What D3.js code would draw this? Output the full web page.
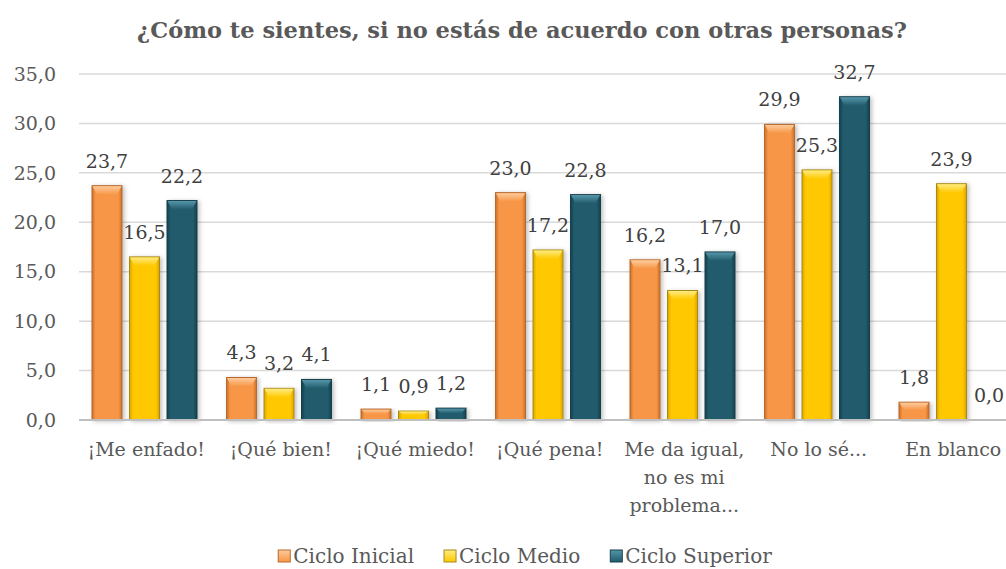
<!DOCTYPE html>
<html><head><meta charset="utf-8">
<script src="https://cdn.jsdelivr.net/npm/d3@7"></script>
<style>
html,body{margin:0;padding:0;background:#fff;overflow:hidden}
text{font-family:"DejaVu Serif",serif}
</style></head><body>
<svg id="c" width="1006" height="569"></svg>
<script>
const title = "¿Cómo te sientes, si no estás de acuerdo con otras personas?";
const categories = ["¡Me enfado!", "¡Qué bien!", "¡Qué miedo!", "¡Qué pena!", "Me da igual, no es mi problema...", "No lo sé...", "En blanco"];
const categoryLines = [["¡Me enfado!"], ["¡Qué bien!"], ["¡Qué miedo!"], ["¡Qué pena!"], ["Me da igual,", "no es mi", "problema..."], ["No lo sé..."], ["En blanco"]];
const seriesNames = ["Ciclo Inicial", "Ciclo Medio", "Ciclo Superior"];
const cicloInicial = [23.7, 4.3, 1.1, 23.0, 16.2, 29.9, 1.8];
const cicloMedio = [16.5, 3.2, 0.9, 17.2, 13.1, 25.3, 23.9];
const cicloSuperior = [22.2, 4.1, 1.2, 22.8, 17.0, 32.7, 0.0];
const yTicks = [0, 5, 10, 15, 20, 25, 30, 35];

const seriesValues = [cicloInicial, cicloMedio, cicloSuperior];
const colors = [
  {fill:"#F79646", light:"#FDCB9C", dark:"#C9702A", stroke:"#B8692E"},
  {fill:"#FFC800", light:"#FFEC80", dark:"#D9A400", stroke:"#A88A1E"},
  {fill:"#215B6C", light:"#5596AA", dark:"#163F4C", stroke:"#173F4B"}
];

const svg = d3.select("#c");
const fmt = v => d3.format(".1f")(v).replace(".", ",");

const defs = svg.append("defs");
const f = defs.append("filter").attr("id","sh").attr("x","-20%").attr("y","-5%").attr("width","150%").attr("height","115%");
f.append("feDropShadow").attr("dx",2).attr("dy",1).attr("stdDeviation",2).attr("flood-color","#000").attr("flood-opacity",0.25);
colors.forEach((c,i)=>{
  const g = defs.append("linearGradient").attr("id","bev"+i).attr("x1",0).attr("y1",0).attr("x2",0).attr("y2",1);
  g.append("stop").attr("offset","0%").attr("stop-color",c.light);
  g.append("stop").attr("offset","100%").attr("stop-color",c.fill);
  const h = defs.append("linearGradient").attr("id","body"+i).attr("x1",0).attr("y1",0).attr("x2",1).attr("y2",0);
  h.append("stop").attr("offset","0%").attr("stop-color",c.dark);
  h.append("stop").attr("offset","12%").attr("stop-color",c.fill);
  h.append("stop").attr("offset","88%").attr("stop-color",c.fill);
  h.append("stop").attr("offset","100%").attr("stop-color",c.dark);
});

const x0 = d3.scaleBand().domain(categories).range([79, 1020.5]).paddingInner(0).paddingOuter(0);
const x1 = d3.scaleBand().domain(seriesNames).range([13, 118]).paddingInner(0.2).paddingOuter(0);
const y = d3.scaleLinear().domain([0, 35]).range([420, 74]);

// title
svg.append("text").attr("x", 522).attr("y", 38).attr("text-anchor","middle")
  .attr("font-size", 22.5).attr("font-weight","bold").attr("fill","#595959").text(title);

// gridlines
svg.append("g").selectAll("line").data(yTicks.filter(t=>t>0)).join("line")
  .attr("x1", 79).attr("x2", 1006).attr("y1", d=>y(d)).attr("y2", d=>y(d))
  .attr("stroke","#D9D9D9").attr("stroke-width",1.5);

// y tick labels
svg.append("g").selectAll("text").data(yTicks).join("text")
  .attr("x", 56).attr("y", d=>y(d)).attr("dy","0.35em").attr("text-anchor","end")
  .attr("font-size",19).attr("fill","#595959").text(d=>fmt(d));

// bars
const groups = svg.append("g").selectAll("g").data(categories).join("g")
  .attr("transform", d=>`translate(${x0(d)},0)`);
seriesNames.forEach((s, si)=>{
  groups.each(function(cat, ci){
    const v = seriesValues[si][ci];
    const g = d3.select(this);
    const bx = x1(s), bw = x1.bandwidth();
    const top = y(v), h = y(0) - y(v);
    if (h > 0.5) {
      g.append("rect").attr("x",bx).attr("y",top).attr("width",bw).attr("height",h)
        .attr("fill",`url(#body${si})`).attr("stroke",colors[si].stroke).attr("stroke-width",1)
        .attr("filter","url(#sh)");
      const bh = Math.min(9, h*0.45), ins = Math.min(5, bw/4);
      g.append("path").attr("d",`M${bx+0.5},${top+0.5} L${bx+bw-0.5},${top+0.5} L${bx+bw-ins},${top+bh} L${bx+ins},${top+bh} Z`)
        .attr("fill",`url(#bev${si})`);
    }
    g.append("text").attr("x", bx + bw/2).attr("y", top - 18)
      .attr("text-anchor","middle").attr("font-size",19).attr("fill","#404040").text(fmt(v));
  });
});

// baseline
svg.append("line").attr("x1",79).attr("x2",1006).attr("y1",y(0)).attr("y2",y(0))
  .attr("stroke","#BFBFBF").attr("stroke-width",2);

// category labels
const cl = svg.append("g").selectAll("text").data(categories).join("text")
  .attr("x", d=>x0(d)+x0.bandwidth()/2).attr("y", 456)
  .attr("text-anchor","middle").attr("font-size",19).attr("fill","#595959");
cl.each(function(d, i){
  const t = d3.select(this);
  categoryLines[i].forEach((ln, li)=>{
    t.append("tspan").attr("x", x0(d)+x0.bandwidth()/2).attr("dy", li===0?0:28).text(ln);
  });
});

// legend
const leg = svg.append("g");
let lx = 0;
seriesNames.forEach((s, si)=>{
  const it = leg.append("g");
  it.append("rect").attr("x",0).attr("y",-6).attr("width",12).attr("height",12)
    .attr("fill",`url(#bev${si})`).attr("stroke",colors[si].stroke).attr("stroke-width",1);
  const t = it.append("text").attr("x",15).attr("y",0).attr("dy","0.35em")
    .attr("font-size",20).attr("fill","#595959").text(s);
  const w = 15 + t.node().getComputedTextLength();
  it.attr("transform",`translate(${lx},556)`);
  lx += w + 30;
});
const total = lx - 30;
leg.attr("transform",`translate(${525 - total/2},0)`);
</script>
</body></html>
